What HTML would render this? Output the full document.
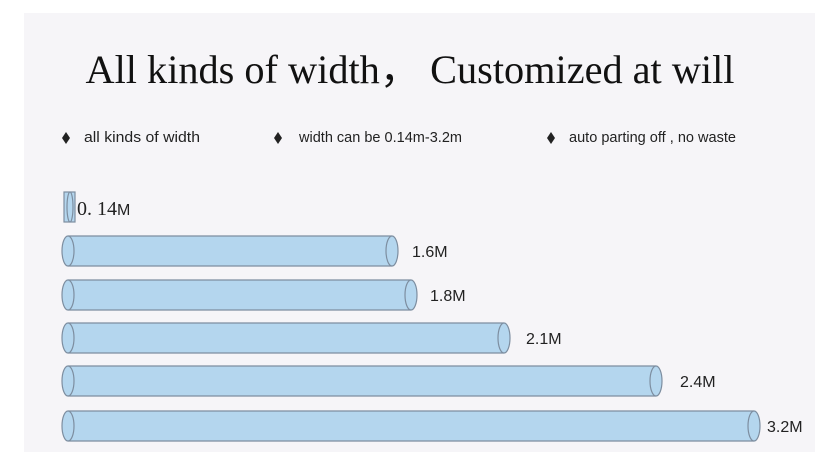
<!DOCTYPE html>
<html><head><meta charset="utf-8"><style>
html,body{margin:0;padding:0;background:#fff;}
svg{display:block;}
</style></head><body>
<svg width="830" height="468" viewBox="0 0 830 468" xmlns="http://www.w3.org/2000/svg">
<rect x="24" y="13" width="791" height="439" fill="#f6f5f8"/>
<text x="410" y="83" text-anchor="middle" font-family="Liberation Serif, serif" font-size="40" fill="#111" textLength="649" lengthAdjust="spacingAndGlyphs">All kinds of width，  Customized at will</text>
<g font-family="Liberation Sans, sans-serif" font-size="15" fill="#222">
<path d="M66 132 L70 138 L66 144 L62 138Z" fill="#222"/>
<text x="84" y="142" textLength="116" lengthAdjust="spacingAndGlyphs">all kinds of width</text>
<path d="M278 132 L282 138 L278 144 L274 138Z" fill="#222"/>
<text x="299" y="142" textLength="163" lengthAdjust="spacingAndGlyphs">width can be 0.14m-3.2m</text>
<path d="M551 132 L555 138 L551 144 L547 138Z" fill="#222"/>
<text x="569" y="142" textLength="167" lengthAdjust="spacingAndGlyphs">auto parting off , no waste</text>
</g>
<g stroke="#7d8ea0" stroke-width="1.2" fill="#b4d6ee">
<rect x="64" y="192" width="11" height="30"/>
<ellipse cx="70" cy="207" rx="3" ry="15"/>
<rect x="68" y="236" width="324" height="30" stroke="none"/>
<line x1="68" y1="236" x2="392" y2="236"/><line x1="68" y1="266" x2="392" y2="266"/>
<ellipse cx="68" cy="251" rx="6" ry="15"/><ellipse cx="392" cy="251" rx="6" ry="15"/>
<rect x="68" y="280" width="343" height="30" stroke="none"/>
<line x1="68" y1="280" x2="411" y2="280"/><line x1="68" y1="310" x2="411" y2="310"/>
<ellipse cx="68" cy="295" rx="6" ry="15"/><ellipse cx="411" cy="295" rx="6" ry="15"/>
<rect x="68" y="323" width="436" height="30" stroke="none"/>
<line x1="68" y1="323" x2="504" y2="323"/><line x1="68" y1="353" x2="504" y2="353"/>
<ellipse cx="68" cy="338" rx="6" ry="15"/><ellipse cx="504" cy="338" rx="6" ry="15"/>
<rect x="68" y="366" width="588" height="30" stroke="none"/>
<line x1="68" y1="366" x2="656" y2="366"/><line x1="68" y1="396" x2="656" y2="396"/>
<ellipse cx="68" cy="381" rx="6" ry="15"/><ellipse cx="656" cy="381" rx="6" ry="15"/>
<rect x="68" y="411" width="686" height="30" stroke="none"/>
<line x1="68" y1="411" x2="754" y2="411"/><line x1="68" y1="441" x2="754" y2="441"/>
<ellipse cx="68" cy="426" rx="6" ry="15"/><ellipse cx="754" cy="426" rx="6" ry="15"/>
</g>
<g font-family="Liberation Sans, sans-serif" font-size="16" fill="#222">
<text x="77" y="215" font-family="Liberation Serif, serif" font-size="20">0. 14<tspan font-family="Liberation Sans, sans-serif" font-size="16">M</tspan></text>
<text x="412" y="257">1.6M</text>
<text x="430" y="301">1.8M</text>
<text x="526" y="344">2.1M</text>
<text x="680" y="387">2.4M</text>
<text x="767" y="432">3.2M</text>
</g>
</svg>
</body></html>
